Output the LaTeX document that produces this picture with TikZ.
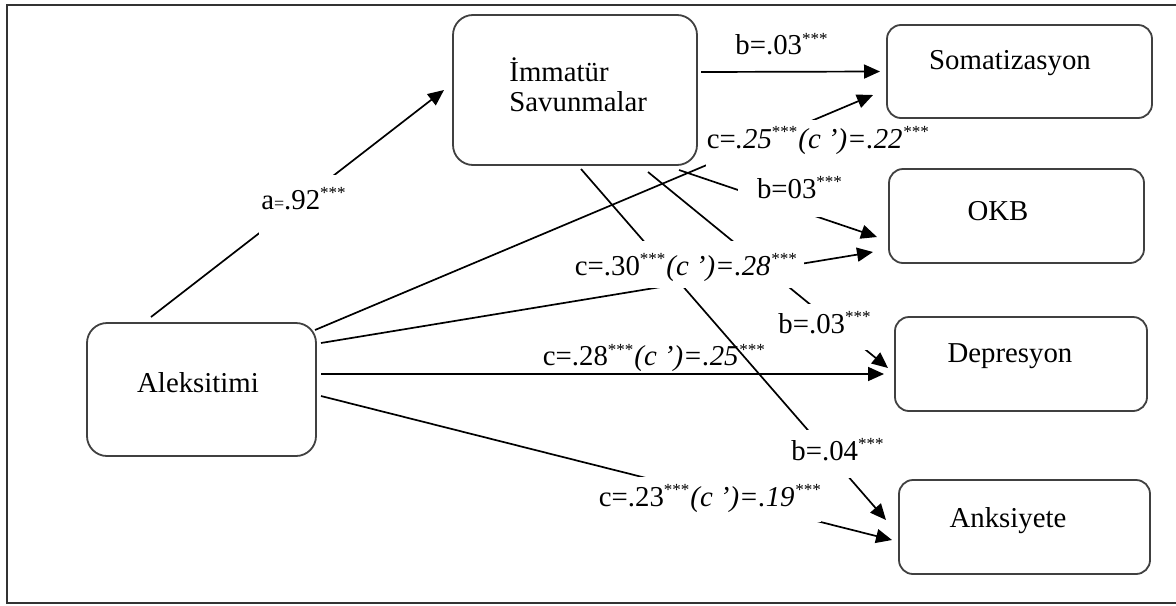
\documentclass[tikz,border=0pt]{standalone}
\usepackage{fontspec}
\setmainfont{Liberation Serif}
\usetikzlibrary{arrows.meta}

\newcommand{\stars}{\textsuperscript{\fontsize{8.5}{8.5}\selectfont ***}}

\tikzset{
  frame/.style={line width=1pt, black!80},
  box/.style={draw=black!75, line width=0.9pt, rounded corners=7pt, outer sep=0pt, inner sep=0pt},
  bigbox/.style={box, rounded corners=10pt},
  vartext/.style={inner sep=0pt, font=\fontsize{14.4}{15}\selectfont},
  conn/.style={line width=0.85pt, -{Triangle[length=8pt,width=7pt]}},
  coef/.style={inner sep=0pt, font=\fontsize{14.4}{15}\selectfont},
  gap/.style={coef, fill=white, anchor=base},
}

\begin{document}
\begin{tikzpicture}[x=0.5pt, y=-0.5pt]
  \useasboundingbox (0,0) rectangle (1176,605);

  % Frame (open on the right)
  \draw[frame] (1176,5) -- (7,5) -- (7,603) -- (1176,603);

  % Variables
  \node[bigbox, minimum width=114.5pt, minimum height=66.5pt] (ale) at (201.5,389.5) {};
  \node[bigbox, minimum width=122pt, minimum height=75pt] (imm) at (575,90) {};
  \node[box, minimum width=132.5pt, minimum height=46.5pt] (som) at (1019.5,71.5) {};
  \node[box, minimum width=127.5pt, minimum height=47pt] (okb) at (1016.5,216) {};
  \node[box, minimum width=126pt, minimum height=47pt] (dep) at (1021,364) {};
  \node[box, minimum width=125.5pt, minimum height=47pt] (ank) at (1024.5,527) {};

  \node[vartext] (alet) at (198,383) {Aleksitimi};
  \node[vartext, align=left, anchor=west] (immt) at (509,85) {İmmatür\\Savunmalar};
  \node[vartext] (somt) at (1010,63) {Somatizasyon};
  \node[vartext] (okbt) at (998,211) {OKB};
  \node[vartext] (dept) at (1010,356) {Depresyon};
  \node[vartext] (ankt) at (1008,521) {Anksiyete};

  % Paths a, b and c
  \draw[conn] ([shift={(64,-6)}]ale.north west) -- ([shift={(-9,0)}]imm.west);
  \draw[conn] ([shift={(4,-18)}]imm.east) -- ([shift={(-7,0)}]som.west);
  \draw[conn] ([shift={(-1,7)}]ale.north east) -- ([shift={(-14,-23)}]som.south west);
  \draw[conn] ([shift={(-18,5)}]imm.south east) -- ([shift={(-12,21)}]okb.west);
  \draw[conn] ([shift={(5,20)}]ale.north east) -- ([shift={(-16,-11)}]okb.south west);
  \draw[conn] ([shift={(-49,7)}]imm.south east) -- ([shift={(-7,4)}]dep.west);
  \draw[conn] ([shift={(6,4)}]imm.south) -- ([shift={(-13,-7)}]ank.west);
  \draw[conn] ([shift={(5,-15.5)}]ale.east) -- ([shift={(-11,10)}]dep.west);
  \draw[conn] ([shift={(5,6.5)}]ale.east) -- ([shift={(-7,13)}]ank.west);

  % Coefficients
  \node[gap, text height=17pt, text depth=13pt, minimum width=45pt] (la) at (304,209)
    {a{\fontsize{9}{9}\selectfont=}.92\stars};
  \node[coef] (lbsom) at (782,44) {b=.03\stars};
  \node[gap, text height=14pt, text depth=9.5pt, minimum width=112pt] (lcsom) at (818,148)
    {c=\textit{.25}\stars\textit{(c ’)=.22\stars}};
  \node[gap, text height=17pt, text depth=9.5pt, minimum width=62pt] (lbokb) at (800,198)
    {b=03\stars};
  \node[gap, text height=17pt, text depth=6.5pt, minimum width=118pt] (lcokb) at (686,275)
    {c=.30\stars\textit{(c ’)=.28\stars}};
  \node[gap, text height=14.5pt, text depth=8.5pt, minimum width=50pt] (lbdep) at (825,333)
    {b=.03\stars};
  \node[coef] (lcdep) at (654,358) {c=.28\stars\textit{(c ’)=.25\stars}};
  \node[gap, text height=15pt, text depth=9pt, minimum width=48pt] (lbank) at (838,460)
    {b=.04\stars};
  \node[gap, text height=14.5pt, text depth=8pt, minimum width=110pt] (lcank) at (710,506)
    {c=.23\stars\textit{(c ’)=.19\stars}};
\end{tikzpicture}
\end{document}
